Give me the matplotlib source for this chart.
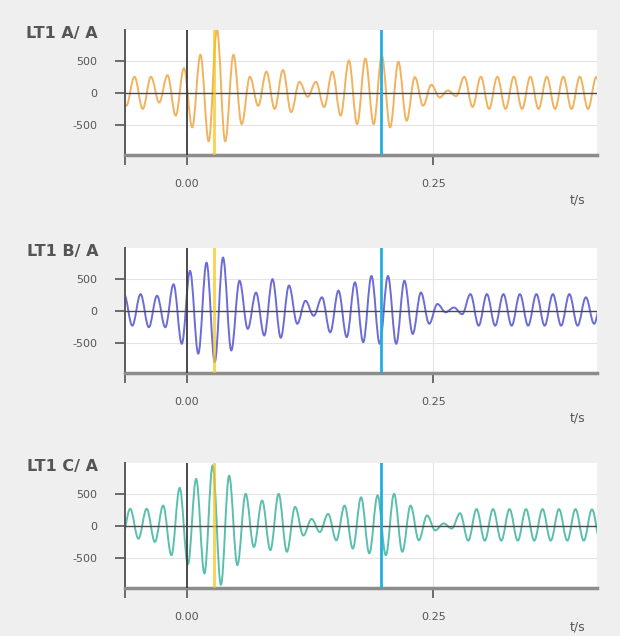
"""
plot.py - LT1 phase currents A, B, C around a fault, with cursors
"""

import numpy as np
from matplotlib import pyplot as plt
from matplotlib.path import Path
from matplotlib.patches import PathPatch

# extrema of each trace (peak / trough alternating),
# spaced by half a period of the 60 Hz wave
half_period = 0.00836

t0_a = -0.0696  # first entry is a peak
ext_a = [
    255, -200, 255, -250, 255, -150, 280, -355, 390, -540,
    600, -760, 1000, -760, 600, -490, 255, -200, 335, -250,
    360, -300, 175, -60, 175, -220, 335, -355, 510, -490,
    540, -490, 580, -540, 490, -435, 250, -200, 130, -70,
    40, -50, 255, -220, 255, -250, 255, -250, 255, -250,
    255, -250, 255, -250, 255, -250, 255, -250, 250, -250,
]

t0_b = -0.0718  # first entry is a trough
ext_b = [
    -230, 265, -230, 265, -255, 240, -255, 420, -515, 630,
    -670, 760, -800, 840, -620, 475, -280, 290, -385, 500,
    -420, 400, -200, 160, -75, 215, -335, 320, -410, 450,
    -490, 550, -515, 550, -515, 475, -360, 290, -200, 110,
    -20, 55, -50, 265, -230, 265, -230, 265, -230, 265,
    -230, 265, -230, 265, -230, 265, -230, 215, -200, 250,
]

t0_c = -0.0656  # first entry is a trough
ext_c = [
    -200, 270, -200, 270, -250, 320, -460, 600, -600, 740,
    -745, 950, -925, 790, -615, 505, -330, 400, -380, 505,
    -405, 300, -150, 110, -95, 190, -225, 320, -355, 450,
    -430, 480, -460, 505, -405, 320, -225, 165, -70, 40,
    -40, 200, -230, 265, -230, 265, -230, 265, -230, 265,
    -230, 265, -230, 265, -230, 265, -230, 260, -230,
]

labels = ['LT1 A/ A', 'LT1 B/ A', 'LT1 C/ A']
colors = ['#f2b25e', '#6c6cd8', '#5bbfae']

x_ticks = [0.0, 0.25]
x_tick_labels = ['0.00', '0.25']
y_ticks = [-500, 0, 500]
y_tick_labels = ['-500', '0', '500']

cursor_t = [0.0, 0.0282, 0.197]

x_range = (-0.0625, 0.416)
y_range = (-975, 990)


def trace(t0, ext):
    t = t0 + half_period * np.arange(len(ext))
    return t, np.asarray(ext, dtype=float)


def wave_path(t, y):
    """Bezier path through the extrema, flat at every peak and trough."""
    verts = [(t[0], y[0])]
    codes = [Path.MOVETO]
    for i in range(len(t) - 1):
        d = (t[i + 1] - t[i]) * 0.3634
        verts += [(t[i] + d, y[i]), (t[i + 1] - d, y[i + 1]),
                  (t[i + 1], y[i + 1])]
        codes += [Path.CURVE4] * 3
    return Path(verts, codes)


def draw_panel(ax, t, y, label, color, tlabel_y):
    ax.set_facecolor('white')

    for v in (-500, 500):
        ax.axhline(v, color='#e4e4e4', lw=0.8, zorder=0)
    ax.axvline(0.25, color='#e4e4e4', lw=0.8, zorder=0)

    ax.add_patch(PathPatch(wave_path(t, y), fill=False, edgecolor=color,
                           lw=1.4, zorder=2))
    ax.axhline(0, color='#4a4a4a', lw=1.0, zorder=3)

    ax.axvline(cursor_t[0], color='#3c3c3c', lw=1.3, zorder=4)
    ax.axvline(cursor_t[1], color='#f5c518', lw=2.2, alpha=0.7, zorder=4)
    ax.axvline(cursor_t[2], color='#22aee0', lw=2.0, zorder=4)

    ax.set_xlim(*x_range)
    ax.set_ylim(*y_range)
    ax.set_xticks([x_range[0]] + x_ticks)
    ax.set_xticklabels([''] + x_tick_labels)
    ax.set_yticks(y_ticks)
    ax.set_yticklabels(y_tick_labels)
    ax.tick_params(axis='both', length=7, width=1.2, colors='#555555',
                   labelsize=8)
    ax.tick_params(axis='y', pad=13)
    ax.tick_params(axis='x', pad=10)

    for side in ('top', 'right'):
        ax.spines[side].set_visible(False)
    ax.spines['left'].set_color('#5a5a5a')
    ax.spines['left'].set_linewidth(1.4)
    ax.spines['bottom'].set_color('#8c8c8c')
    ax.spines['bottom'].set_linewidth(2.5)

    ax.text(-0.057, 0.972, label, transform=ax.transAxes, ha='right',
            va='center', fontsize=11.5, fontweight='bold', color='#555555')
    ax.text(0.958, tlabel_y, 't/s', transform=ax.transAxes, ha='center',
            va='center', fontsize=9, color='#555555')


def main():
    fig = plt.figure(figsize=(6.2, 6.36), dpi=100)
    fig.patch.set_facecolor('#efefef')

    bottoms = [0.7563, 0.4135, 0.0755]
    tlabel_ys = [-0.36, -0.36, -0.31]
    data = [trace(t0_a, ext_a), trace(t0_b, ext_b), trace(t0_c, ext_c)]
    for b, (t, y), label, color, ty in zip(bottoms, data, labels, colors,
                                           tlabel_ys):
        ax = fig.add_axes([0.2016, b, 0.7613, 0.1965])
        draw_panel(ax, t, y, label, color, ty)

    fig.savefig('out.png', dpi=100, facecolor=fig.get_facecolor())


if __name__ == '__main__':
    main()
